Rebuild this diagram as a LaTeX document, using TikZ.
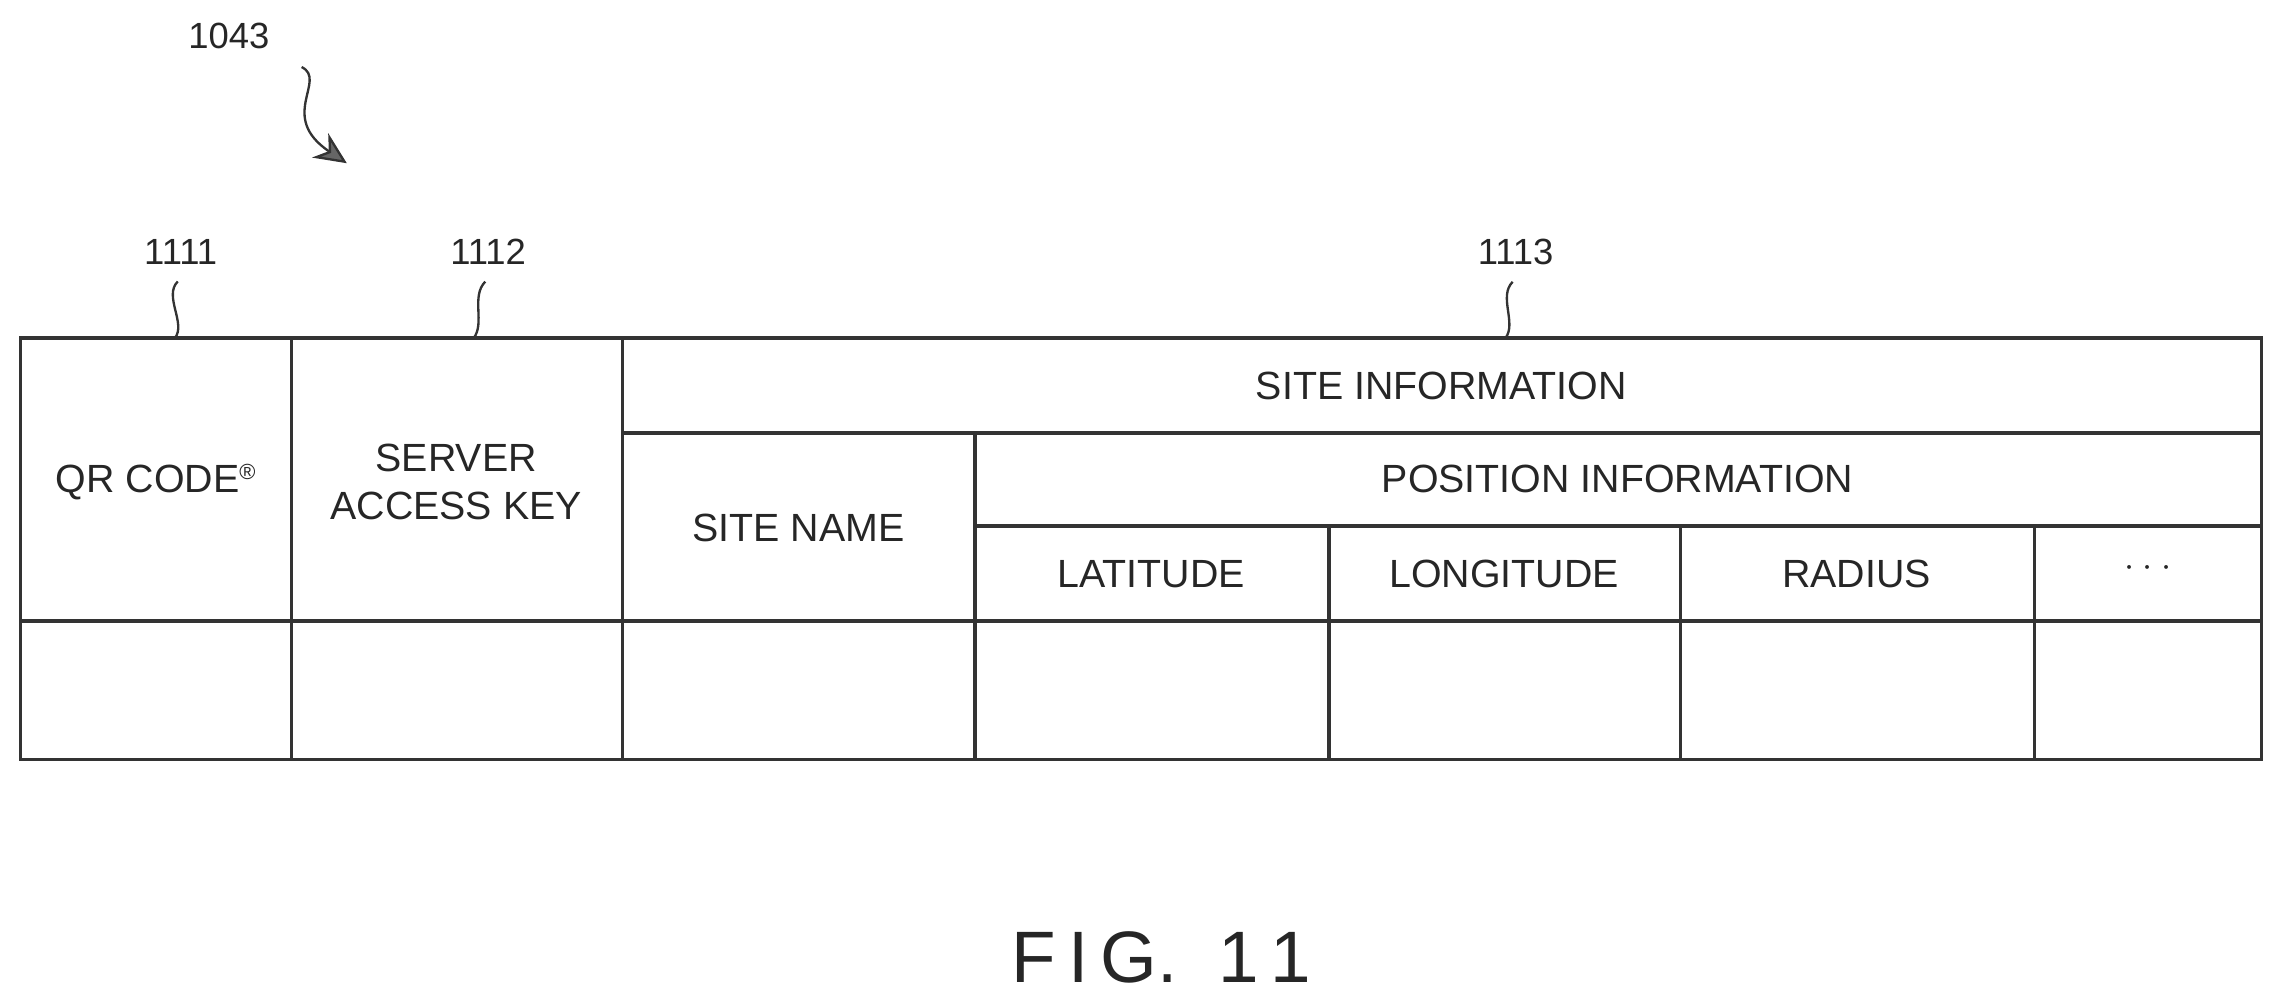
\documentclass[tikz,border=0pt]{standalone}
\usepackage{fontspec}
\setmainfont{Liberation Sans}
\usetikzlibrary{arrows.meta}
\begin{document}
\begin{tikzpicture}[x=1pt,y=-1pt,
  grid/.style={draw=black!80,line width=2.4pt},
  lbl/.style={font=\fontsize{27}{33}\selectfont,align=center,text=black!85},
  num/.style={font=\fontsize{25}{30}\selectfont,text=black!85},
  lead/.style={draw=black!80,line width=1.6pt}]
\useasboundingbox (0,0) rectangle (1568,691);
% table
\draw[grid] (14,232) rectangle (1552,521);
\foreach \x in {200,427} \draw[grid] (\x,232) -- (\x,521);
\draw[grid] (669,297) -- (669,521);
\foreach \x in {912,1153,1396} \draw[grid] (\x,361) -- (\x,521);
\draw[grid] (427,297) -- (1552,297);
\draw[grid] (669,361) -- (1552,361);
\draw[grid] (14,426) -- (1552,426);
% texts
\node[lbl] (qr) at (107,331) {QR CODE\textsuperscript{\fontsize{15}{18}\selectfont\textregistered}};
\node[lbl] (sak) at (313,331) {SERVER\\ACCESS KEY};
\node[lbl] (si) at (989,265) {SITE INFORMATION};
\node[lbl] (sn) at (548,362) {SITE NAME};
\node[lbl] (pi) at (1110,329) {POSITION INFORMATION};
\node[lbl] (lat) at (790,394) {LATITUDE};
\node[lbl] (lon) at (1032,394) {LONGITUDE};
\node[lbl] (rad) at (1274,394) {RADIUS};
\node[lbl] (dots) at (1474,390) {$\cdot\cdot\cdot$};
% reference numbers
\node[num] (n1111) at (124,173) {1111};
\node[num] (n1112) at (335,173) {1112};
\node[num] (n1113) at (1040,173) {1113};
\node[num] (n1043) at (157,25) {1043};
\coordinate (e1) at (120,232);
\coordinate (e2) at (325,232);
\coordinate (e3) at (1033,232);
\draw[lead] (n1111.south) ++(-2,8) .. controls +(-10,10) and +(8,-10) .. (e1);
\draw[lead] (n1112.south) ++(-2,8) .. controls +(-10,10) and +(8,-10) .. (e2);
\draw[lead] (n1113.south) ++(-2,8) .. controls +(-10,10) and +(8,-10) .. (e3);
\coordinate (a0) at (207,46);
\coordinate (a1) at (238,112);
\draw[lead,-{Stealth[length=22pt,width=20pt,fill=black!60]}] (a0) .. controls (225,55) and (190,80) .. (a1);
% caption
\node[font=\fontsize{50}{60}\selectfont,text=black!85] (fig) at (797,657) {F\,I\,G.\ \ 1\,1};
\end{tikzpicture}
\end{document}
